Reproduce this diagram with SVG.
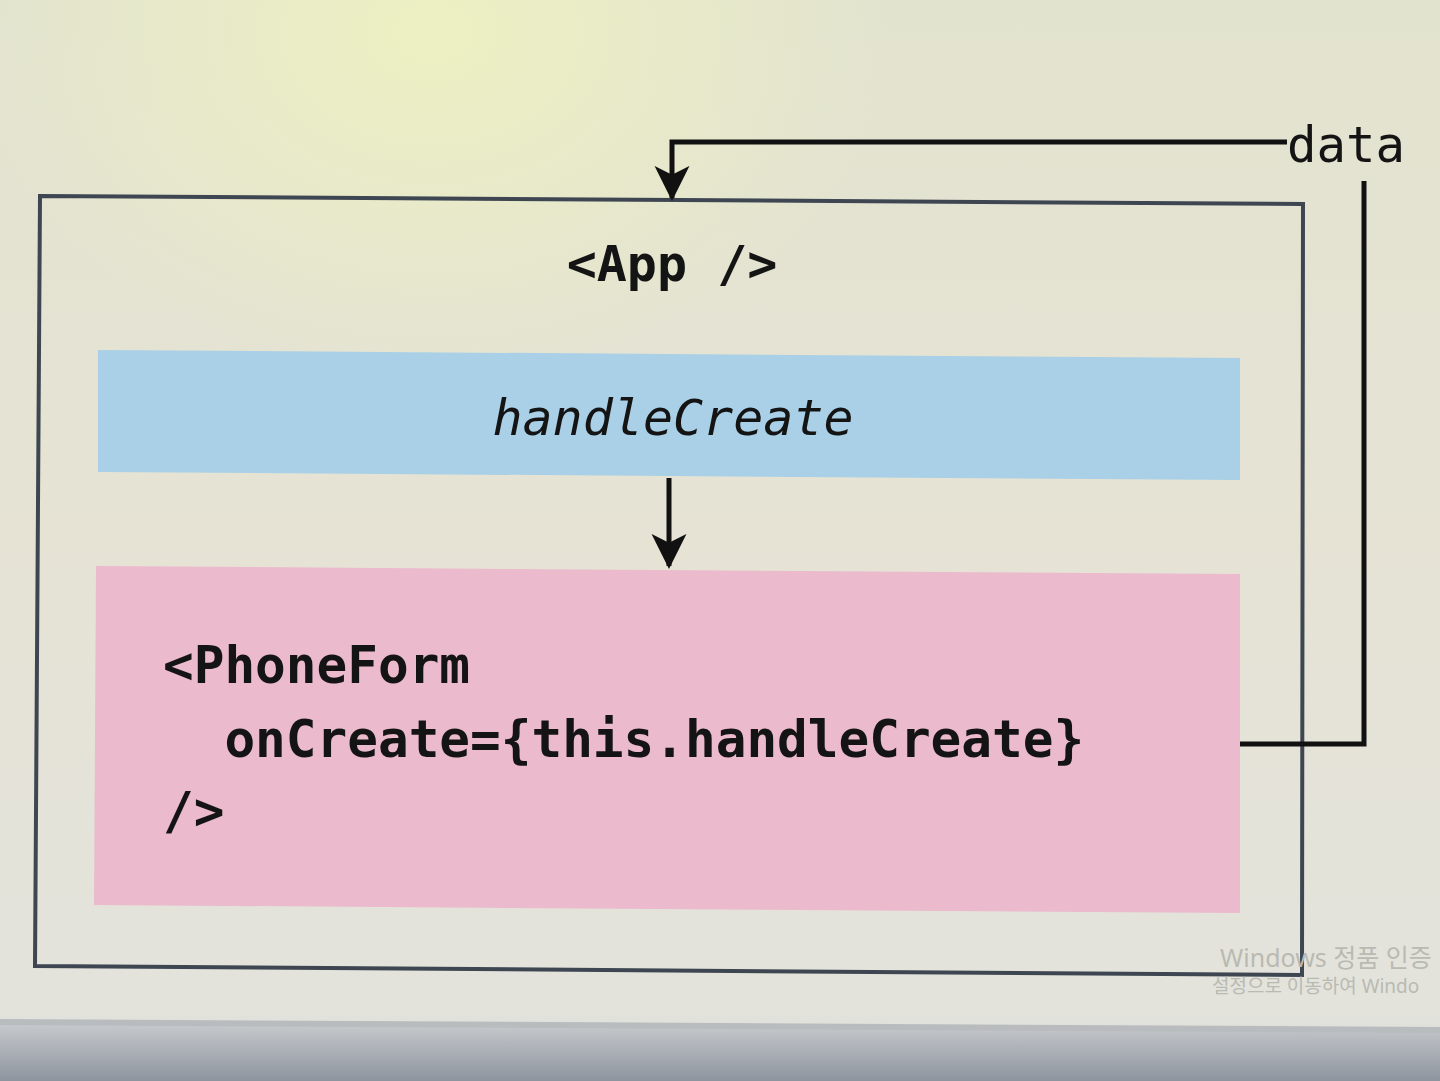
<svg xmlns="http://www.w3.org/2000/svg" width="1440" height="1081" viewBox="0 0 1440 1081">
  <defs>
    <linearGradient id="bg" x1="0" y1="0" x2="0" y2="1">
      <stop offset="0" stop-color="#e2e3cf"/>
      <stop offset="0.5" stop-color="#e6e3d5"/>
      <stop offset="0.93" stop-color="#e3e3dc"/>
      <stop offset="1" stop-color="#d8dbd8"/>
    </linearGradient>
    <radialGradient id="glare" cx="0.3" cy="0.03" r="0.32">
      <stop offset="0" stop-color="#eef2c0" stop-opacity="0.9"/>
      <stop offset="1" stop-color="#eef2c0" stop-opacity="0"/>
    </radialGradient>
    <linearGradient id="bezel" x1="0" y1="0" x2="0" y2="1">
      <stop offset="0" stop-color="#c8cbce"/>
      <stop offset="1" stop-color="#8e949e"/>
    </linearGradient>
    <marker id="arrow" viewBox="0 0 12 12" refX="11" refY="6" markerWidth="7" markerHeight="7.5" markerUnits="strokeWidth" orient="auto">
      <path d="M0,0 L12,6 L0,12 L3,6 z" fill="#111"/>
    </marker>
    <style>
      .mono { font-family: "DejaVu Sans Mono", "Liberation Mono", monospace; fill: #141414; }
      .bold { font-weight: bold; }
      .wire { fill: none; stroke: #111; stroke-width: 5; }
      .wm { font-family: "Noto Sans", "Noto Sans CJK KR", sans-serif; fill: #b9bab2; }
    </style>
  </defs>

  <!-- background (photographed screen) -->
  <rect x="0" y="0" width="1440" height="1081" fill="url(#bg)"/>
  <rect x="0" y="0" width="1440" height="1081" fill="url(#glare)"/>
  <path d="M0,1022 L1440,1030 L1440,1081 L0,1081 z" fill="url(#bezel)"/>
  <path d="M0,1022 L1440,1030" stroke="#b8bcbe" stroke-width="6"/>

  <!-- App container -->
  <g id="app">
    <polygon points="40,196 1303,204 1302,975 35,966" fill="none" stroke="#3e4652" stroke-width="4"/>
    <text class="mono bold" x="672" y="281" font-size="50" text-anchor="middle">&lt;App /&gt;</text>
  </g>

  <!-- handleCreate -->
  <g id="handleCreate">
    <polygon points="98,350 1240,358 1240,480 98,472" fill="#a9d0e6"/>
    <text class="mono" x="673" y="435" font-size="50" font-style="italic" text-anchor="middle">handleCreate</text>
  </g>

  <!-- PhoneForm -->
  <g id="phoneform">
    <polygon points="96,566 1240,574 1240,913 94,905" fill="#ebbacd"/>
    <text class="mono bold" x="163" y="683" font-size="51" xml:space="preserve">&lt;PhoneForm</text>
    <text class="mono bold" x="163" y="757" font-size="51" xml:space="preserve">  onCreate={this.handleCreate}</text>
    <text class="mono bold" x="163" y="829" font-size="51">/&gt;</text>
  </g>

  <!-- data label -->
  <g id="data">
    <text class="mono" x="1346" y="162" font-size="49" text-anchor="middle" font-weight="500">data</text>
  </g>

  <!-- connectors -->
  <g id="connectors">
    <path class="wire" d="M1240,744 L1364,744 L1364,181"/>
    <path class="wire" d="M1287,142 L672,142 L672,198" marker-end="url(#arrow)"/>
    <path class="wire" d="M669,478 L669,566" marker-end="url(#arrow)"/>
  </g>

  <!-- OS watermark on the photographed screen -->
  <g id="watermark">
    <text class="wm" x="1220" y="967" font-size="25">Windows 정품 인증</text>
    <text class="wm" x="1212" y="993" font-size="19">설정으로 이동하여 Windo</text>
  </g>
</svg>
